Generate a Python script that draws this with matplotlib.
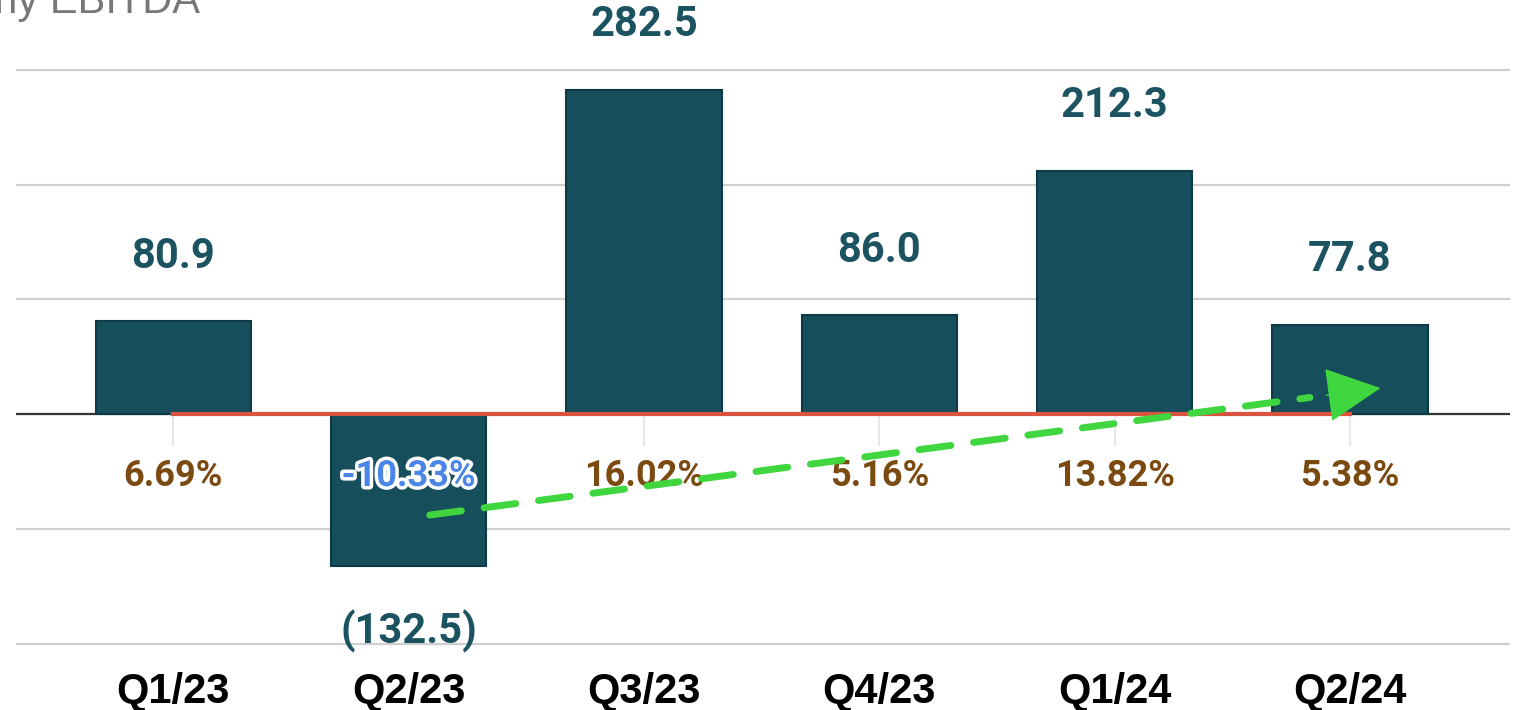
import matplotlib
matplotlib.use("Agg")
import matplotlib.pyplot as plt
import matplotlib.patheffects as pe

# data ....................................................................#
quarters = ["Q1/23", "Q2/23", "Q3/23", "Q4/23", "Q1/24", "Q2/24"]
ebitda = [80.9, -132.5, 282.5, 86.0, 212.3, 77.8]
margins = [6.69, -10.33, 16.02, 5.16, 13.82, 5.38]

bar_color = "#174e5b"
label_color = "#1b5361"
margin_color = "#7a4a10"

fig = plt.figure(figsize=(15.22, 7.1), dpi=100)
ax = fig.add_axes([16 / 1522, 55 / 710, (1510 - 16) / 1522, 655 / 710])

x = list(range(len(quarters)))

# gridlines
for g in [300, 200, 100, -100, -200]:
    ax.axhline(g, color="#cfcfcf", lw=1.6, zorder=0)
ax.axhline(0, color="#333333", lw=1.6, zorder=1)

# little tick marks under zero line
ax.vlines(x, -28, 0, color="#e3e3e3", lw=1.2, zorder=1)

bars = ax.bar(x, ebitda, width=0.66, color=bar_color, edgecolor="#0e3a44",
              linewidth=1.5, zorder=2)

# margin series sits on the zero line
ax.plot([x[0], x[-1]], [0, 0], color="#d9533f", lw=3, zorder=3)

# value labels
for xi, v in zip(x, ebitda):
    txt = f"{v:.1f}" if v >= 0 else f"({abs(v):.1f})"
    off = 47 if v >= 0 else -47
    ax.annotate(txt, (xi, v), xytext=(0, off), textcoords="offset points",
                ha="center", va="center", fontsize=30, fontweight="bold",
                family="Roboto", color=label_color, zorder=5)

# margin labels
for xi, m in zip(x, margins):
    if m < 0:
        ax.text(xi, -54, f"{m:.2f}%", ha="center", va="center", fontsize=26,
                fontweight="bold", family="Roboto", color="#4a86e8", zorder=6,
                path_effects=[pe.withStroke(linewidth=5, foreground="white")])
    else:
        ax.text(xi, -54, f"{m:.2f}%", ha="center", va="center", fontsize=26,
                fontweight="bold", family="Roboto", color=margin_color, zorder=6)

# green dashed trend arrow
arrow_start = (1.09, -88)
arrow_end = (5.13, 22.7)
ax.annotate("", xy=(4.83, 14.5), xytext=arrow_start,
            arrowprops=dict(arrowstyle="-", color="#3fd63f", lw=5,
                            linestyle=(0, (4.6, 3.3)), shrinkA=0, shrinkB=0),
            zorder=7)
ax.annotate("", xy=arrow_end, xytext=(4.9, 16.4),
            arrowprops=dict(arrowstyle="-|>,head_length=1.2,head_width=0.6",
                            color="#3fd63f", lw=1, mutation_scale=30,
                            shrinkA=0, shrinkB=0),
            zorder=7)

ax.set_xlim(-0.668, 5.68)
ax.set_ylim(-210, 361)
ax.set_xticks(x)
ax.set_xticklabels(quarters, fontsize=30, fontweight="bold",
                   family="Liberation Sans", color="black")
ax.tick_params(axis="x", length=0, pad=12)
ax.set_yticks([])
for s in ax.spines.values():
    s.set_visible(False)

fig.text(200 / 1522, 1 - 13 / 710, "Quarterly EBITDA", ha="right", va="baseline",
         fontsize=30, family="Liberation Sans", color="#777777")

fig.savefig("out.png", dpi=100)
